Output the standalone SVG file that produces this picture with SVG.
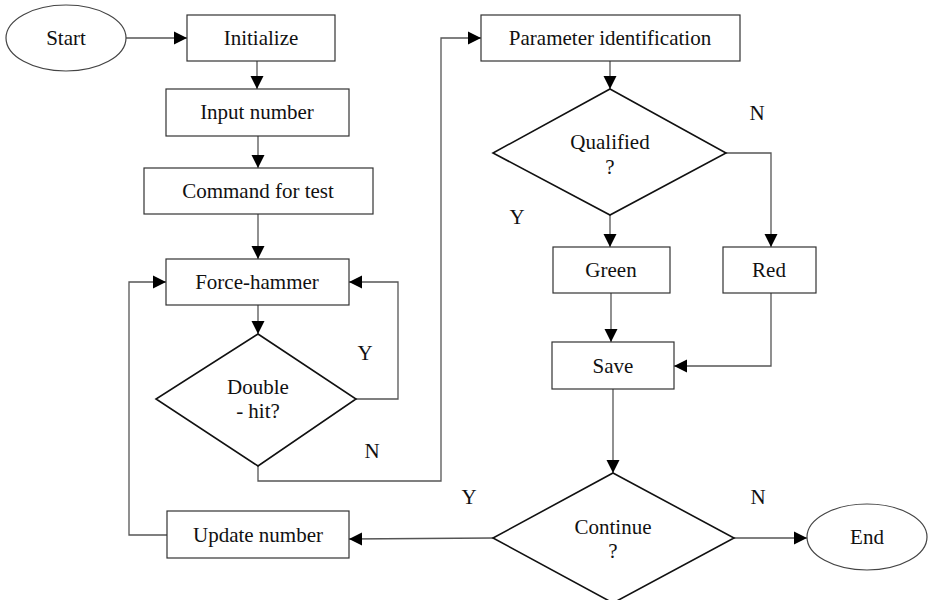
<svg xmlns="http://www.w3.org/2000/svg" width="928" height="600" viewBox="0 0 928 600">
<defs>
<marker id="ah" markerUnits="userSpaceOnUse" markerWidth="14" markerHeight="14" viewBox="0 0 14 14" refX="13" refY="7" orient="auto">
<path d="M0,0.5 L13,7 L0,13.5 Z" fill="#000"/>
</marker>
<style>
.box{fill:#fff;stroke:#333;stroke-width:1.2}
.dia{fill:#fff;stroke:#111;stroke-width:1.6}
.ell{fill:#fff;stroke:#444;stroke-width:1.2}
.c{fill:none;stroke:#555;stroke-width:1.3}
.a{marker-end:url(#ah)}
</style>
</defs>
<rect width="928" height="600" fill="#fff"/>
<g font-family="Liberation Serif, Times New Roman, DejaVu Serif, serif" font-size="21" fill="#111" text-anchor="middle" dominant-baseline="central">
<g id="connectors">
<path class="c a" d="M126,38 H187"/>
<path class="c a" d="M257,61 V89"/>
<path class="c a" d="M258,136 V168"/>
<path class="c a" d="M258,214 V259"/>
<path class="c a" d="M258,305 V334"/>
<path class="c a" d="M356,399 H398 V282 H349"/>
<path class="c a" d="M258,466 V481 H441 V38 H481"/>
<path class="c a" d="M610,61 V89"/>
<path class="c a" d="M610,215 V247"/>
<path class="c a" d="M726,153 H771 V247"/>
<path class="c a" d="M611,293 V342"/>
<path class="c a" d="M771,293 V366 H674"/>
<path class="c a" d="M613,389 V473"/>
<path class="c a" d="M734,538 H807"/>
<path class="c a" d="M493,538 L349,539"/>
<path class="c a" d="M167,535 H129 V282 H166"/>
</g>
<g id="labels">
<text x="365" y="353">Y</text>
<text x="372" y="451">N</text>
<text x="757" y="113">N</text>
<text x="517" y="217">Y</text>
<text x="469" y="497">Y</text>
<text x="758" y="497">N</text>
</g>
<g id="start"><ellipse class="ell" cx="66" cy="38" rx="60" ry="33"/><text x="66" y="38">Start</text></g>
<g id="initialize"><rect class="box" x="187" y="15" width="148" height="46"/><text x="261" y="38">Initialize</text></g>
<g id="input"><rect class="box" x="166" y="89" width="183" height="47"/><text x="257" y="112">Input number</text></g>
<g id="command"><rect class="box" x="144" y="168" width="229" height="46"/><text x="258" y="191">Command for test</text></g>
<g id="force"><rect class="box" x="166" y="259" width="183" height="46"/><text x="257" y="282">Force-hammer</text></g>
<g id="doublehit"><polygon class="dia" points="258,334 356,399 258,466 156,399"/><text x="258" y="387">Double</text><text x="258" y="411">- hit?</text></g>
<g id="param"><rect class="box" x="481" y="15" width="259" height="46"/><text x="610" y="38">Parameter identification</text></g>
<g id="qualified"><polygon class="dia" points="610,89 726,153 610,215 493,153"/><text x="610" y="142">Qualified</text><text x="610" y="167">?</text></g>
<g id="green"><rect class="box" x="553" y="247" width="117" height="46"/><text x="611" y="270">Green</text></g>
<g id="red"><rect class="box" x="723" y="247" width="93" height="46"/><text x="769" y="270">Red</text></g>
<g id="save"><rect class="box" x="552" y="342" width="122" height="47"/><text x="613" y="366">Save</text></g>
<g id="continue"><polygon class="dia" points="613,473 734,538 613,603 493,538"/><text x="613" y="527">Continue</text><text x="613" y="551">?</text></g>
<g id="end"><ellipse class="ell" cx="867" cy="537" rx="60" ry="33"/><text x="867" y="537">End</text></g>
<g id="update"><rect class="box" x="167" y="511" width="182" height="47"/><text x="258" y="535">Update number</text></g>
</g>
</svg>
